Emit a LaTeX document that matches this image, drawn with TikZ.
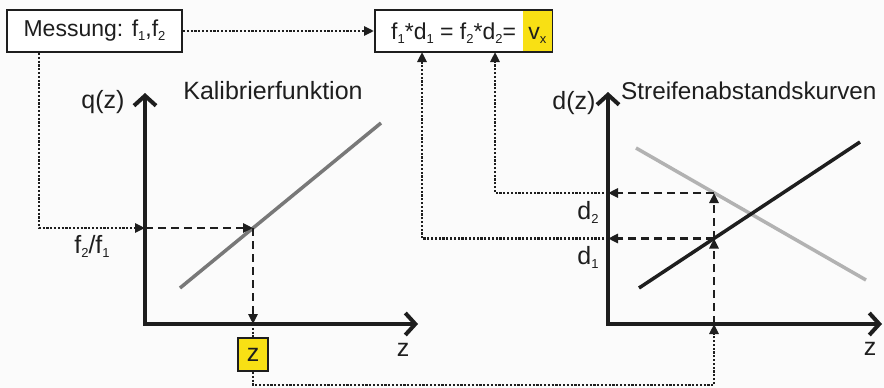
\documentclass[tikz,border=0pt]{standalone}
\usepackage{fontspec}
\setmainfont{Liberation Sans}
\usetikzlibrary{arrows.meta}
\definecolor{ink}{RGB}{30,30,30}
\definecolor{yel}{RGB}{248,224,20}
\definecolor{calgray}{RGB}{120,120,120}
\definecolor{lgray}{RGB}{178,178,178}
\definecolor{bg}{RGB}{251,251,251}
\newcommand{\ssb}[1]{\raisebox{-4pt}{\fontsize{13}{13}\selectfont #1}}
\begin{document}
\begin{tikzpicture}[x=1pt,y=-1pt,
  font=\fontsize{25}{29}\selectfont, text=ink,
  boxfont/.style={font=\fontsize{23}{27}\selectfont},
  box/.style={draw=ink, line width=2pt, fill=white, inner sep=0pt},
  axisline/.style={draw=ink, line width=4pt, line join=miter,
    {Straight Barb[length=10pt,width=22pt]}-{Straight Barb[length=10pt,width=22pt]}},
  dasharrow/.style={draw=ink, line width=2.5pt, dash pattern=on 8pt off 5pt,
    -{Triangle[length=10pt,width=9pt]}},
  dotarrow/.style={draw=ink, line width=2.5pt, dash pattern=on 2.2pt off 1.6pt,
    -{Triangle[length=10pt,width=9pt]}},
  dotline/.style={draw=ink, line width=2.5pt, dash pattern=on 2.2pt off 1.6pt},
  curve/.style={line width=3.5pt}
]
\useasboundingbox[fill=bg] (0,0) rectangle (884,388);

% boxes
\node[box, boxfont, minimum width=175pt, minimum height=42pt] (mess) at (94.5,31)
  {Messung: f\ssb{1},f\ssb{2}};
\node[box, minimum width=177pt, minimum height=42pt] (fbox) at (463.5,31) {};
\node[fill=yel, boxfont, inner sep=0pt, minimum width=29pt, minimum height=40pt,
  text height=20pt, text depth=4pt, anchor=east] (vx) at ([xshift=-1pt]fbox.east) {v\ssb{x}};
\node[boxfont, anchor=base west, inner sep=0pt] (eq) at (391,39)
  {f\ssb{1}*d\ssb{1} = f\ssb{2}*d\ssb{2}=};

% left diagram
\coordinate (qtop) at (145,93);
\coordinate (o1) at (145,324);
\coordinate (zend1) at (418,324);
\draw[axisline] (qtop) -- (o1) -- (zend1);
\draw[calgray, curve] (180,288) -- (381,123);
\node (qlab) at (103,102) {q(z)};
\node (kal) at (273,91) {Kalibrierfunktion};
\node (flab) at (92,246) {f\ssb{2}/f\ssb{1}};
\node (zlab1) at (403,350) {z};
\node[fill=yel, draw=ink, line width=2pt, minimum width=30pt, minimum height=33pt,
  inner sep=0pt] (zbox) at (253,354.5) {z};

\coordinate (qin) at (145,228);
\coordinate (pcal) at (253,228);
\coordinate (zx) at (253,324);
\draw[dotarrow] ([xshift=33pt]mess.south west) |- (qin);
\draw[dasharrow] (qin) -- (pcal);
\draw[dasharrow] (pcal) -- (zx);
\draw[dotline] (zx) -- (zbox.north);

% right diagram
\coordinate (dtop) at (608,92);
\coordinate (o2) at (608,324);
\coordinate (zend2) at (882,324);
\draw[axisline] (dtop) -- (o2) -- (zend2);
\draw[lgray, curve] (636,148) -- (866,280);
\draw[ink, curve] (639,288) -- (860,142);
\node (dlab) at (574,103) {d(z)};
\node[anchor=west, inner sep=0pt, font=\fontsize{24.3}{28}\selectfont] (stre) at (621,91) {Streifenabstandskurven};
\node (d2lab) at (588,212) {d\ssb{2}};
\node (d1lab) at (588,257) {d\ssb{1}};
\node (zlab2) at (870,349) {z};

\coordinate (zx2) at (714,324);
\coordinate (a1) at (714,238.5);
\coordinate (a2) at (714,193);
\coordinate (dd1) at (608,238.5);
\coordinate (dd2) at (608,193);
\coordinate (zr) at (714,385);
\coordinate (f1in) at (422,52);
\coordinate (f2in) at (495,52);

\draw[dotarrow] (zbox.south) |- (zr) -- (zx2);
\draw[dasharrow] (zx2) -- (a1);
\draw[dasharrow] (a1) -- (a2);
\draw[dasharrow] (a2) -- (dd2);
\draw[dasharrow] (a1) -- (dd1);
\draw[dotarrow] (dd2) -| (f2in);
\draw[dotarrow] (dd1) -| (f1in);

% top connector
\draw[dotarrow] (mess) -- (fbox);
\end{tikzpicture}
\end{document}
